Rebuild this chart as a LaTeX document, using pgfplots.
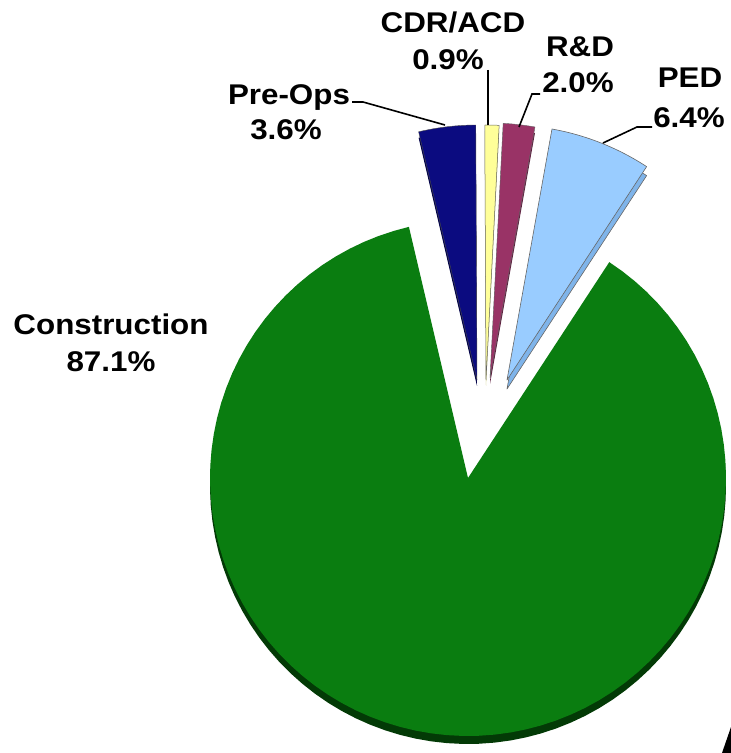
\documentclass[border=0pt]{standalone}
\usepackage{fontspec}
\setmainfont{Liberation Sans}[FakeStretch=1.1]
\usepackage{pgfplots}
\pgfplotsset{compat=1.18}
\definecolor{cons}{HTML}{0A7D10}
\definecolor{consS}{HTML}{033A06}
\definecolor{preops}{HTML}{0B0B80}
\definecolor{preopsS}{HTML}{05054A}
\definecolor{cdr}{HTML}{FFFF99}
\definecolor{cdrS}{HTML}{C8C870}
\definecolor{rd}{HTML}{993366}
\definecolor{rdS}{HTML}{5E1F3F}
\definecolor{ped}{HTML}{99CCFF}
\definecolor{pedS}{HTML}{7FB4EA}
\begin{document}
\begin{tikzpicture}
\begin{axis}[
  width=731pt, height=753pt, scale only axis,
  xmin=0, xmax=731, ymin=0, ymax=753,
  axis lines=none, clip=false,
  every axis plot/.append style={samples=90, variable=\t, line join=round},
]
\path (axis cs:0,0) rectangle (axis cs:731,753);
% Shares (percent): Construction 87.1, Pre-Ops 3.6, CDR/ACD 0.9, R&D 2.0, PED 6.4
% slice angles = percent * 3.6 degrees, starting at 56.8 degrees
% ---- side faces (3D depth) ----
\addplot[fill=consS, draw=none, domain=103.24:416.8] ({468+258*cos(t)},{267+258*sin(t)}) -- (axis cs:468,267) -- cycle;
\addplot[fill=preopsS, draw=none, domain=90.28:103.24] ({477+255*cos(t)},{367+255*sin(t)}) -- (axis cs:477,367) -- cycle;
\addplot[fill=cdrS, draw=none, domain=87.04:90.28] ({486+255*cos(t)},{367+255*sin(t)}) -- (axis cs:486,367) -- cycle;
\addplot[fill=rdS, draw=none, domain=79.84:87.04] ({490+255*cos(t)},{369+255*sin(t)}) -- (axis cs:490,369) -- cycle;
\addplot[fill=pedS, draw=black!60, line width=0.6pt, domain=56.8:79.84] ({507+255*cos(t)},{364+255*sin(t)}) -- (axis cs:507,364) -- cycle;
% ---- top faces ----
% Construction 87.1%
\addplot[fill=cons, draw=none, domain=103.24:416.8] ({468+258*cos(t)},{275+258*sin(t)}) -- (axis cs:468,275) -- cycle;
% Pre-Ops 3.6%
\addplot[fill=preops, draw=black!70, line width=0.4pt, domain=90.28:103.24] ({477+255*cos(t)},{373+255*sin(t)}) -- (axis cs:477,373) -- cycle;
% CDR/ACD 0.9%
\addplot[fill=cdr, draw=black!60, line width=0.5pt, domain=87.04:90.28] ({486+255*cos(t)},{373+255*sin(t)}) -- (axis cs:486,373) -- cycle;
% R&D 2.0%
\addplot[fill=rd, draw=black!60, line width=0.4pt, domain=79.84:87.04] ({490+255*cos(t)},{375+255*sin(t)}) -- (axis cs:490,375) -- cycle;
% PED 6.4%
\addplot[fill=ped, draw=black!60, line width=0.6pt, domain=56.8:79.84] ({507+255*cos(t)},{373+255*sin(t)}) -- (axis cs:507,373) -- cycle;
% ---- leader lines ----
\draw[black, line width=1.6pt] (axis cs:352,651) -- (axis cs:363,651) -- (axis cs:445,628);
\draw[black, line width=1.6pt] (axis cs:488,683) -- (axis cs:488,628);
\draw[black, line width=1.6pt] (axis cs:540,659) -- (axis cs:532,659) -- (axis cs:519,626);
\draw[black, line width=1.6pt] (axis cs:652,626) -- (axis cs:637,626) -- (axis cs:603,610);
% ---- labels ----
\begin{scope}[every node/.style={font=\fontsize{28.5}{32}\selectfont\bfseries, anchor=base, inner sep=0pt}]
\node at (axis cs:111,418) {Construction};
\node at (axis cs:111,381) {87.1\%};
\node at (axis cs:289,648) {Pre-Ops};
\node at (axis cs:286,613) {3.6\%};
\node at (axis cs:453,720) {CDR/ACD};
\node at (axis cs:448,683) {0.9\%};
\node at (axis cs:580,696) {R\&D};
\node at (axis cs:578,660) {2.0\%};
\node at (axis cs:690,665) {PED};
\node at (axis cs:689,625) {6.4\%};
\end{scope}
% corner mark
\fill[black] (axis cs:731,26) -- (axis cs:722,0) -- (axis cs:731,0) -- cycle;
\end{axis}
\end{tikzpicture}
\end{document}
